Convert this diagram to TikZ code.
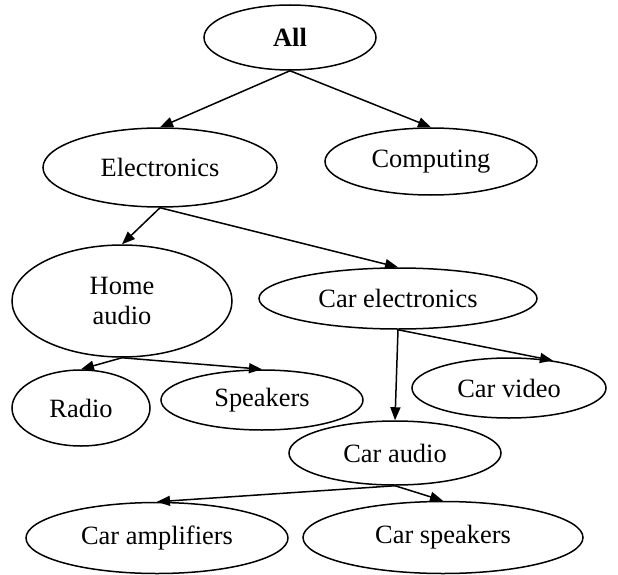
\documentclass[tikz,border=0pt]{standalone}
\usepackage{fontspec}
\setmainfont{Liberation Serif}
\usepackage{tikz}
\usetikzlibrary{shapes.geometric, arrows.meta}
\tikzset{>={Triangle[length=13pt,width=10pt]}}
\tikzset{cat/.style={draw, ellipse, line width=1.5pt, inner sep=0pt, align=center, font=\fontsize{26.4}{30}\selectfont}}
\tikzset{link/.style={->, line width=1.5pt}}

\begin{document}
\begin{tikzpicture}[x=1pt, y=-1pt]
	\useasboundingbox (0,0) rectangle (618,575);
	% top level
	\node[cat, minimum width=172pt, minimum height=65pt] (all) at (290, 37.5) {\textbf{All}};
	\node[cat, minimum width=234pt, minimum height=79pt] (elec) at (160, 167.5) {Electronics};
	\node[cat, minimum width=212pt, minimum height=67pt] (comp) at (431, 161.5) {Computing};
	% electronics
	\node[cat, minimum width=220pt, minimum height=112pt] (home) at (122, 301) {Home\\audio};
	\node[cat, minimum width=278pt, minimum height=61pt] (carel) at (398, 298.5) {Car electronics};
	% home audio
	\node[cat, minimum width=138pt, minimum height=76pt] (radio) at (81, 408) {Radio};
	\node[cat, minimum width=202pt, minimum height=60pt] (spk) at (262, 400) {Speakers};
	% car electronics
	\node[cat, minimum width=194pt, minimum height=60pt] (cvid) at (509, 388) {Car video};
	\node[cat, minimum width=212pt, minimum height=64pt] (caud) at (395, 453) {Car audio};
	% car audio
	\node[cat, minimum width=262pt, minimum height=71pt] (camp) at (157, 538) {Car amplifiers};
	\node[cat, minimum width=280pt, minimum height=72pt] (cspk) at (443, 537.5) {Car speakers};

	\draw[link] (all.south)--(elec.north);
	\draw[link] (all.south)--(comp.north);
	\draw[link] (elec.south)--(home.north);
	\draw[link] (elec.south)--(carel.north);
	\draw[link] (home.south)--(radio.north);
	\draw[link] (home.south)--(spk.north);
	\draw[link] (carel.south)--(cvid.32);
	\draw[link] (carel.south)--(caud.north);
	\draw[link] (caud.south)--(camp.north);
	\draw[link] (caud.south)--(cspk.north);
\end{tikzpicture}
\end{document}
